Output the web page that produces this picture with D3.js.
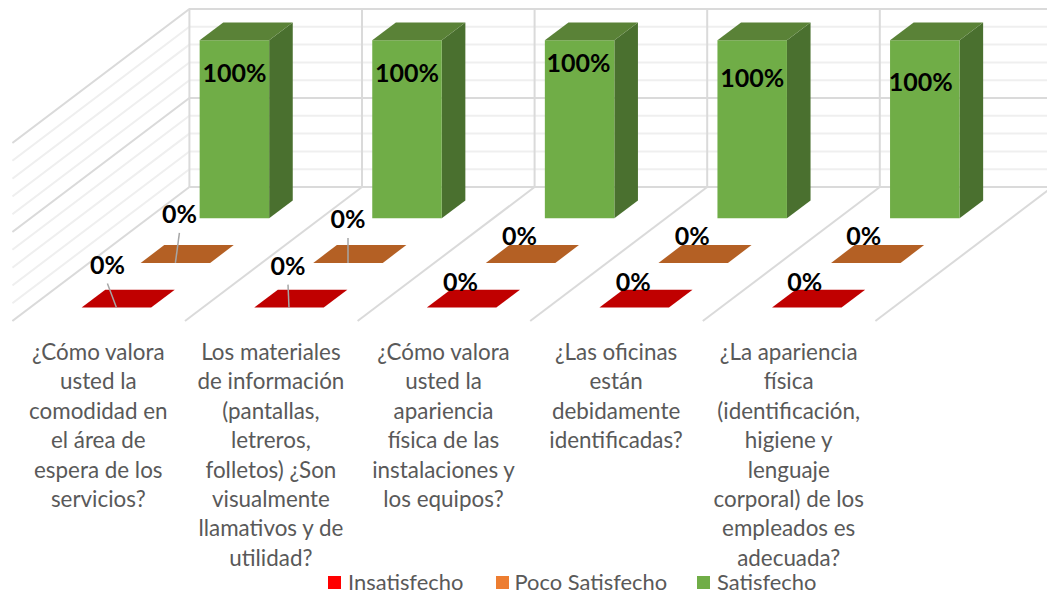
<!DOCTYPE html>
<html><head><meta charset="utf-8">
<script src="https://cdn.jsdelivr.net/npm/d3@7/dist/d3.min.js"></script>
<style>html,body{margin:0;padding:0;background:#fff}svg{display:block}</style>
</head><body><svg id="c" width="1047" height="594"></svg>
<script>
const categories = [
  ["¿Cómo valora","usted la","comodidad en","el área de","espera de los","servicios?"],
  ["Los materiales","de información","(pantallas,","letreros,","folletos) ¿Son","visualmente","llamativos y de","utilidad?"],
  ["¿Cómo valora","usted la","apariencia","física de las","instalaciones y","los equipos?"],
  ["¿Las oficinas","están","debidamente","identificadas?"],
  ["¿La apariencia","física","(identificación,","higiene y","lenguaje","corporal) de los","empleados es","adecuada?"]
];
const seriesNames = ["Insatisfecho","Poco Satisfecho","Satisfecho"];
const insatisfecho = [0,0,0,0,0];
const pocoSatisfecho = [0,0,0,0,0];
const satisfecho = [1,1,1,1,1];
const seriesValues = [insatisfecho, pocoSatisfecho, satisfecho];
const legendColors = ["#FF0000","#ED7D31","#70AD47"];
const frontColors = ["#C00000","#B46024","#70AD47"];
const topColors = ["#C00000","#B46024","#5A8237"];
const sideColors = ["#C00000","#B46024","#4A702F"];

const svg = d3.select("#c");
const backX = d3.scaleBand().domain(d3.range(5)).range([189.4,1052.4]);
const y = d3.scaleLinear().domain([0,1]).range([187,9]);
const depth = d3.scaleBand().domain([2,1,0]).range([0,1]);
const depthDX = -177, depthDY = 134;
const barW = 69.5, barDepth = 0.4;
const P = (X,v,z)=>[X+depthDX*z, y(v)+depthDY*z];
const poly = pts=>pts.map(p=>p.join(",")).join(" ");

// hand-placed data label displacement from each mark's front-centre point
const labelDX = [[-9,-1,-1,-1,-2],[4,0,-1,-1,-2],[0,0,-1,0,-4]];
const labelDY = [[-44,-43,-27,-27,-27],[-50,-45,-28,-28,-28],[32,32,22,37,41]];

svg.append("defs").append("clipPath").attr("id","plot").append("rect")
  .attr("x",12).attr("y",0).attr("width",1035).attr("height",340);
const grid = svg.append("g").attr("clip-path","url(#plot)").attr("fill","none").attr("stroke-width",2);
const ticks = y.ticks(10);
const gridColor = t => (Math.round(t*10)%5===0) ? "#DADADA" : "#EFEFEF";
grid.selectAll(".gl").data(ticks.filter(t=>t>0)).join("path")
  .attr("stroke",gridColor)
  .attr("d",t=>d3.line()([P(189.4,t,1),P(189.4,t,0),P(1052.4,t,0)]));
const bounds = d3.range(6).map(i=>i<5?backX(i):backX.range()[1]);
grid.selectAll(".v").data(bounds.slice(0,5)).join("line")
  .attr("x1",d=>d).attr("x2",d=>d).attr("y1",y(1)).attr("y2",y(0)).attr("stroke","#DADADA");
grid.selectAll(".f").data(bounds).join("path").attr("stroke","#DADADA")
  .attr("d",d=>d3.line()([P(d,0,0),P(d,0,1)]));
grid.append("line").attr("x1",189.4).attr("x2",1052.4).attr("y1",y(0)).attr("y2",y(0)).attr("stroke","#DADADA");

const labels = [];
[2,1,0].forEach(s=>{
  seriesValues[s].forEach((v,i)=>{
    const cx = backX(i)+backX.bandwidth()/2;
    const x0 = cx-barW/2, x1 = cx+barW/2;
    const zc = depth(s)+depth.bandwidth()/2;
    const zb = zc-depth.bandwidth()*barDepth/2, zf = zc+depth.bandwidth()*barDepth/2;
    const g = svg.append("g");
    if(v>0){
      g.append("polygon").attr("fill",sideColors[s]).attr("points",poly([P(x1,0,zf),P(x1,0,zb),P(x1,v,zb),P(x1,v,zf)]));
      g.append("polygon").attr("fill",frontColors[s]).attr("points",poly([P(x0,0,zf),P(x1,0,zf),P(x1,v,zf),P(x0,v,zf)]));
    }
    g.append("polygon").attr("fill",topColors[s]).attr("points",poly([P(x0,v,zf),P(x1,v,zf),P(x1,v,zb),P(x0,v,zb)]));
    const a = P(cx,v,zf);
    labels.push({s,i,v,ax:a[0],ay:a[1],lx:a[0]+labelDX[s][i],ly:a[1]+labelDY[s][i]});
  });
});

// Leader lines for labels moved far from their marks
svg.selectAll(".lead").data(labels.filter(d=>d.s<2 && d.ay-d.ly>40)).join("line")
  .attr("x1",d=>d.ax).attr("y1",d=>d.ay).attr("x2",d=>d.lx).attr("y2",d=>d.ly+20)
  .attr("stroke","#A6A6A6").attr("stroke-width",1.5);
svg.selectAll(".lbl").data(labels).join("text")
  .attr("font-family","Lato, sans-serif").attr("font-weight",700).attr("font-size",25)
  .attr("fill","#000").attr("text-anchor","middle").attr("dominant-baseline","central")
  .attr("x",d=>d.lx).attr("y",d=>d.ly)
  .text(d=>d3.format(".0%")(d.v));

// Category labels
const catX = d3.scaleBand().domain(d3.range(5)).range([12,875]);
categories.forEach((lines,i)=>{
  const t = svg.append("text").attr("font-family","Lato, sans-serif").attr("font-size",22.4).attr("fill","#595959").attr("text-anchor","middle");
  lines.forEach((l,k)=>t.append("tspan").attr("x",catX(i)+catX.bandwidth()/2).attr("y",360+k*29.4).text(l));
});

// Legend
const legendX = [328,496,697];
const lg = svg.selectAll(".lg").data(seriesNames).join("g");
lg.append("rect").attr("x",(d,i)=>legendX[i]).attr("y",576).attr("width",13).attr("height",13).attr("fill",(d,i)=>legendColors[i]);
lg.append("text").attr("x",(d,i)=>legendX[i]+(i===1?18.5:20)).attr("y",590).attr("font-family","Lato, sans-serif").attr("font-size",21.9).attr("fill","#595959").text(d=>d);
</script></body></html>
